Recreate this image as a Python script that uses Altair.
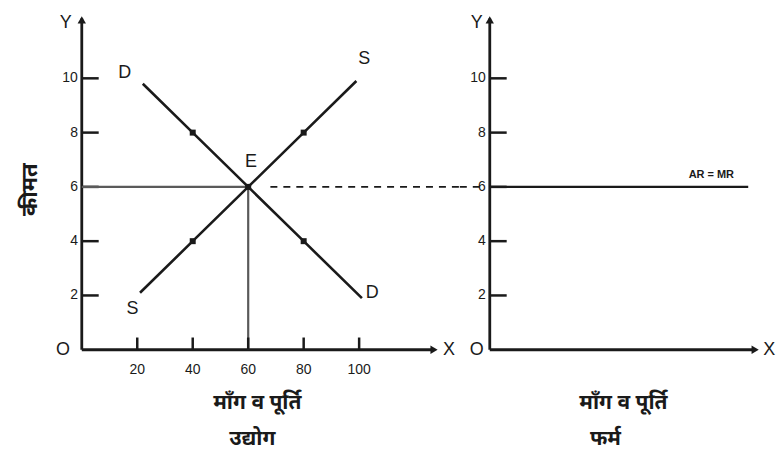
import altair as alt
import pandas as pd

# ---------------- data ----------------
price_ticks = [2, 4, 6, 8, 10]
qty_ticks = [20, 40, 60, 80, 100]

demand_q = [22, 40, 60, 80, 101]
demand_p = [9.8, 8, 6, 4, 1.9]
supply_q = [21, 40, 60, 80, 99]
supply_p = [2.1, 4, 6, 8, 9.9]

marker_q = [40, 80, 40, 80]
marker_p = [8, 8, 4, 4]

eq_q = 60
eq_p = 6
firm_price = 6

curve_labels = ["D", "S", "E", "S", "D"]
curve_label_q = [15.5, 101.8, 61, 18.3, 104.7]
curve_label_p = [10.2, 10.7, 6.9, 1.5, 2.1]

# ---------------- scales ----------------
YS = alt.Scale(domain=[-3.71, 12.57], nice=False, zero=False)
XL = alt.Scale(domain=[-26.6, 136.3], nice=False, zero=False)
XR = alt.Scale(domain=[-10.8, 102.5], nice=False, zero=False)

DARK = "#1a1a1a"
FONT = "Liberation Sans"
HFONT = "Noto Sans"


def X(f, xs):
    return alt.X(f"{f}:Q", scale=xs, axis=None)


def Y(f):
    return alt.Y(f"{f}:Q", scale=YS, axis=None)


def rules(df, xs, color=DARK, width=2.5, dash=None):
    kw = dict(color=color, strokeWidth=width)
    if dash:
        kw["strokeDash"] = dash
    return alt.Chart(df).mark_rule(**kw).encode(
        x=X("x", xs), x2=alt.X2("x2"), y=Y("y"), y2=alt.Y2("y2")
    )


def texts(df, xs, size=15, font=FONT, weight="normal", align="center", angle=0, color=DARK):
    kw = dict(fontSize=size, font=font, fontWeight=weight, align=align,
              baseline="middle", color=color)
    if angle:
        kw["angle"] = angle
    return alt.Chart(df).mark_text(**kw).encode(x=X("x", xs), y=Y("y"), text="t:N")


def axes(xs, x_end, x_label_x, o_x, y_label_x):
    lines = pd.DataFrame([
        {"x": 0, "x2": 0, "y": 0, "y2": 12.2},
        {"x": 0, "x2": x_end, "y": 0, "y2": 0},
    ])
    arrows = pd.DataFrame([
        {"x": 0, "y": 12.15, "s": "triangle-up"},
        {"x": x_end, "y": 0, "s": "triangle-right"},
    ])
    yt = pd.DataFrame({"x": 0, "x2": 6.1, "y": price_ticks, "y2": price_ticks})
    ytl = pd.DataFrame({"x": -1.4, "y": price_ticks, "t": [str(v) for v in price_ticks]})
    letters = pd.DataFrame([
        {"x": y_label_x, "y": 12.05, "t": "Y"},
        {"x": o_x, "y": 0, "t": "O"},
        {"x": x_label_x, "y": 0, "t": "X"},
    ])
    arr = alt.Chart(arrows).mark_point(filled=True, size=70, color=DARK, opacity=1).encode(
        x=X("x", xs), y=Y("y"), shape=alt.Shape("s:N", scale=None)
    )
    return [
        rules(lines, xs, width=2.8),
        arr,
        rules(yt, xs, width=2.5),
        texts(ytl, xs, size=14, align="right"),
        texts(letters, xs, size=18),
    ]


# ---------------- left panel: industry ----------------
guides = pd.DataFrame([
    {"x": 0, "x2": eq_q, "y": eq_p, "y2": eq_p},
    {"x": eq_q, "x2": eq_q, "y": 0, "y2": eq_p},
])
dash_l = pd.DataFrame([{"x": 68, "x2": 136.3, "y": eq_p, "y2": eq_p}])
xt = pd.DataFrame({"x": qty_ticks, "x2": qty_ticks, "y": 0, "y2": 0.45})
xtl = pd.DataFrame({"x": qty_ticks, "y": -0.74, "t": [str(v) for v in qty_ticks]})
curves = pd.DataFrame({
    "x": demand_q + supply_q,
    "y": demand_p + supply_p,
    "c": ["D"] * len(demand_q) + ["S"] * len(supply_q),
})
marks = pd.DataFrame({"x": marker_q + [eq_q], "y": marker_p + [eq_p]})
clabels = pd.DataFrame({"x": curve_label_q, "y": curve_label_p, "t": curve_labels})
titles_l = pd.DataFrame([
    {"x": 63.3, "y": -1.95, "t": "माँग व पूर्ति"},
    {"x": 61.5, "y": -3.3, "t": "उद्योग"},
])
ytitle = pd.DataFrame([{"x": -18.7, "y": 5.9, "t": "कीमत"}])

left_layers = axes(XL, 127, 132.4, -6.8, -5.8) + [
    rules(guides, XL, color="#5a5a5a", width=2.2),
    rules(dash_l, XL, color=DARK, width=1.6, dash=[7, 6]),
    rules(xt, XL, width=2.5),
    texts(xtl, XL, size=14),
    alt.Chart(curves).mark_line(color=DARK, strokeWidth=2.6).encode(
        x=X("x", XL), y=Y("y"), detail="c:N"
    ),
    alt.Chart(marks).mark_point(shape="square", filled=True, size=36, color=DARK, opacity=1).encode(
        x=X("x", XL), y=Y("y")
    ),
    texts(clabels, XL, size=18),
    texts(titles_l, XL, size=21, font=HFONT, weight="bold"),
    texts(ytitle, XL, size=22, font=HFONT, weight="bold", angle=270),
]
left = alt.layer(*left_layers).properties(width=453, height=443)

# ---------------- right panel: firm ----------------
ar = pd.DataFrame([{"x": 0, "x2": 93.2, "y": firm_price, "y2": firm_price}])
dash_r = pd.DataFrame([{"x": -10.8, "x2": -2.2, "y": firm_price, "y2": firm_price}])
arlab = pd.DataFrame([{"x": 79.9, "y": 6.45, "t": "AR = MR"}])
titles_r = pd.DataFrame([
    {"x": 48.2, "y": -1.95, "t": "माँग व पूर्ति"},
    {"x": 41.7, "y": -3.3, "t": "फर्म"},
])

right_layers = axes(XR, 95.7, 100.8, -4.7, -4.7) + [
    rules(ar, XR, color=DARK, width=2.2),
    rules(dash_r, XR, color=DARK, width=1.6, dash=[7, 6]),
    texts(arlab, XR, size=11, weight="bold"),
    texts(titles_r, XR, size=21, font=HFONT, weight="bold"),
]
right = alt.layer(*right_layers).properties(width=315, height=443)

chart = (
    alt.hconcat(left, right, spacing=0, bounds="flush")
    .properties(padding=0, background="white")
    .configure_view(stroke=None)
)

chart.save("out.html", embed_options={"renderer": "svg", "actions": False})
